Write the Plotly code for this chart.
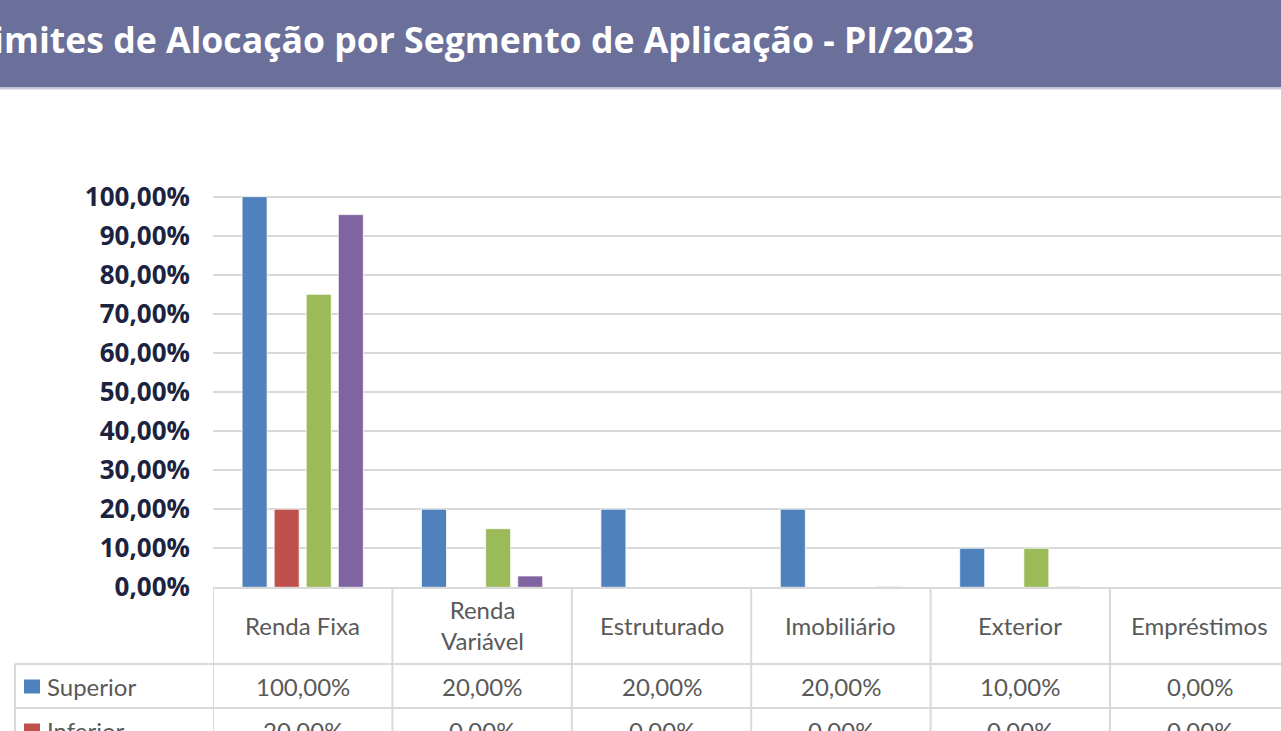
import plotly.graph_objects as go

# ---------------- data ----------------
categories = ["Renda Fixa", "Renda<br>Variável", "Estruturado", "Imobiliário", "Exterior", "Empréstimos"]
series_names = ["Superior", "Inferior", "Alvo", "Alocação Atual"]
superior = [100.0, 20.0, 20.0, 20.0, 10.0, 0.0]
inferior = [20.0, 0.0, 0.0, 0.0, 0.0, 0.0]
alvo = [75.0, 15.0, 0.0, 0.0, 10.0, 0.0]
atual = [95.4, 2.9, 0.0, 0.2, 0.2, 0.0]
series_values = [superior, inferior, alvo, atual]
series_colors = ["#4F81BD", "#C0504D", "#9BBB59", "#8064A2"]
table_rows = 2  # rows of the data table visible in the frame
title_text = "Limites de Alocação por Segmento de Aplicação - PI/2023"

# ---------------- geometry helpers ----------------
W, H = 1281, 731


def py(p):
    """pixel y (from top) -> paper y"""
    return (H - p) / H


def px(p):
    return p / W


fig = go.Figure()
xidx = list(range(len(categories)))
for name, vals, col in zip(series_names, series_values, series_colors):
    fig.add_trace(go.Bar(
        x=xidx, y=vals, name=name,
        marker=dict(color=col, line=dict(color="rgba(255,255,255,0.75)", width=1)),
        showlegend=False, hoverinfo="skip",
    ))

shapes = []
annots = []

# header bar
shapes.append(dict(type="rect", xref="paper", yref="paper", x0=-0.01, x1=1.01, y0=py(87.5), y1=py(-2),
                   fillcolor="#6A709A", line=dict(width=0), layer="below"))
shapes.append(dict(type="rect", xref="paper", yref="paper", x0=-0.01, x1=1.01, y0=py(89.5), y1=py(87.5),
                   fillcolor="#C9CBDD", line=dict(width=0), layer="below"))
annots.append(dict(text=title_text, xref="paper", yref="paper", x=px(-29), y=py(39),
                   xanchor="left", yanchor="middle", showarrow=False,
                   font=dict(family="Open Sans", size=35.6, color="white", weight=700)))

# data table
grid_col = "#D9D9D9"
header_top, header_bot = 587.5, 664
row_h = 44
table_bottom = H + 5
n = len(categories)
# vertical lines at category boundaries
for i in range(n + 1):
    shapes.append(dict(type="line", xref="x", yref="paper", x0=i - 0.5, x1=i - 0.5,
                       y0=py(header_top), y1=py(table_bottom), line=dict(color=grid_col, width=2)))
# legend column left border
shapes.append(dict(type="line", xref="paper", yref="paper", x0=px(15), x1=px(15),
                   y0=py(header_bot), y1=py(table_bottom), line=dict(color=grid_col, width=2)))
# horizontal row lines
for r in range(table_rows + 1):
    yy = header_bot + r * row_h
    shapes.append(dict(type="line", xref="paper", yref="paper", x0=px(15), x1=1.01,
                       y0=py(yy), y1=py(yy), line=dict(color=grid_col, width=2)))

tfont = dict(family="Lato", size=24, color="#595959")
for i, c in enumerate(categories):
    annots.append(dict(text=c, xref="x", yref="paper", x=i, y=py((header_top + header_bot) / 2 - 0.5),
                       xanchor="center", yanchor="middle", showarrow=False, font=tfont))


def fmt(v):
    return f"{v:.2f}".replace(".", ",") + "%"


for r in range(table_rows):
    yc = header_bot + r * row_h + row_h / 2
    shapes.append(dict(type="rect", xref="paper", yref="paper", x0=px(24), x1=px(40),
                       y0=py(yc + 7.5), y1=py(yc - 6.5), fillcolor=series_colors[r], line=dict(width=0)))
    annots.append(dict(text=series_names[r], xref="paper", yref="paper", x=px(45), y=py(yc),
                       xanchor="left", yanchor="middle", showarrow=False, font=tfont))
    for i, v in enumerate(series_values[r]):
        annots.append(dict(text=fmt(v), xref="x", yref="paper", x=i, y=py(yc),
                           xanchor="center", yanchor="middle", showarrow=False, font=tfont))

cat_w = (1110 - 213) / 5.0
x_right = -0.5 + (W - 213) / cat_w

fig.update_layout(
    width=W, height=H,
    margin=dict(l=0, r=0, t=0, b=0, autoexpand=False),
    paper_bgcolor="white", plot_bgcolor="white",
    separators=",.",
    barmode="group", bargap=0.285, bargroupgap=0.22,
    shapes=shapes, annotations=annots,
    xaxis=dict(domain=[px(213), 1], range=[-0.5, x_right], showticklabels=False, automargin=False,
               showgrid=False, zeroline=False, showline=True, linecolor=grid_col, linewidth=2),
    yaxis=dict(domain=[py(587.3), py(194.7)], range=[0, 100.5], dtick=10, tick0=0, automargin=False,
               tickformat=".2f", ticksuffix="%", showgrid=True, gridcolor=grid_col, gridwidth=2,
               zeroline=False, ticklabelstandoff=22,
               tickfont=dict(family="Open Sans", size=26, color="#1B2340", weight=700)),
)

fig.write_html(
    "out.html",
    config={"displayModeBar": False},
    post_script=(
        "document.documentElement.style.margin='0';document.documentElement.style.padding='0';"
        "document.documentElement.style.overflow='hidden';"
        "document.body.style.margin='0';document.body.style.padding='0';"
        "document.body.style.overflow='hidden';"
    ),
)
